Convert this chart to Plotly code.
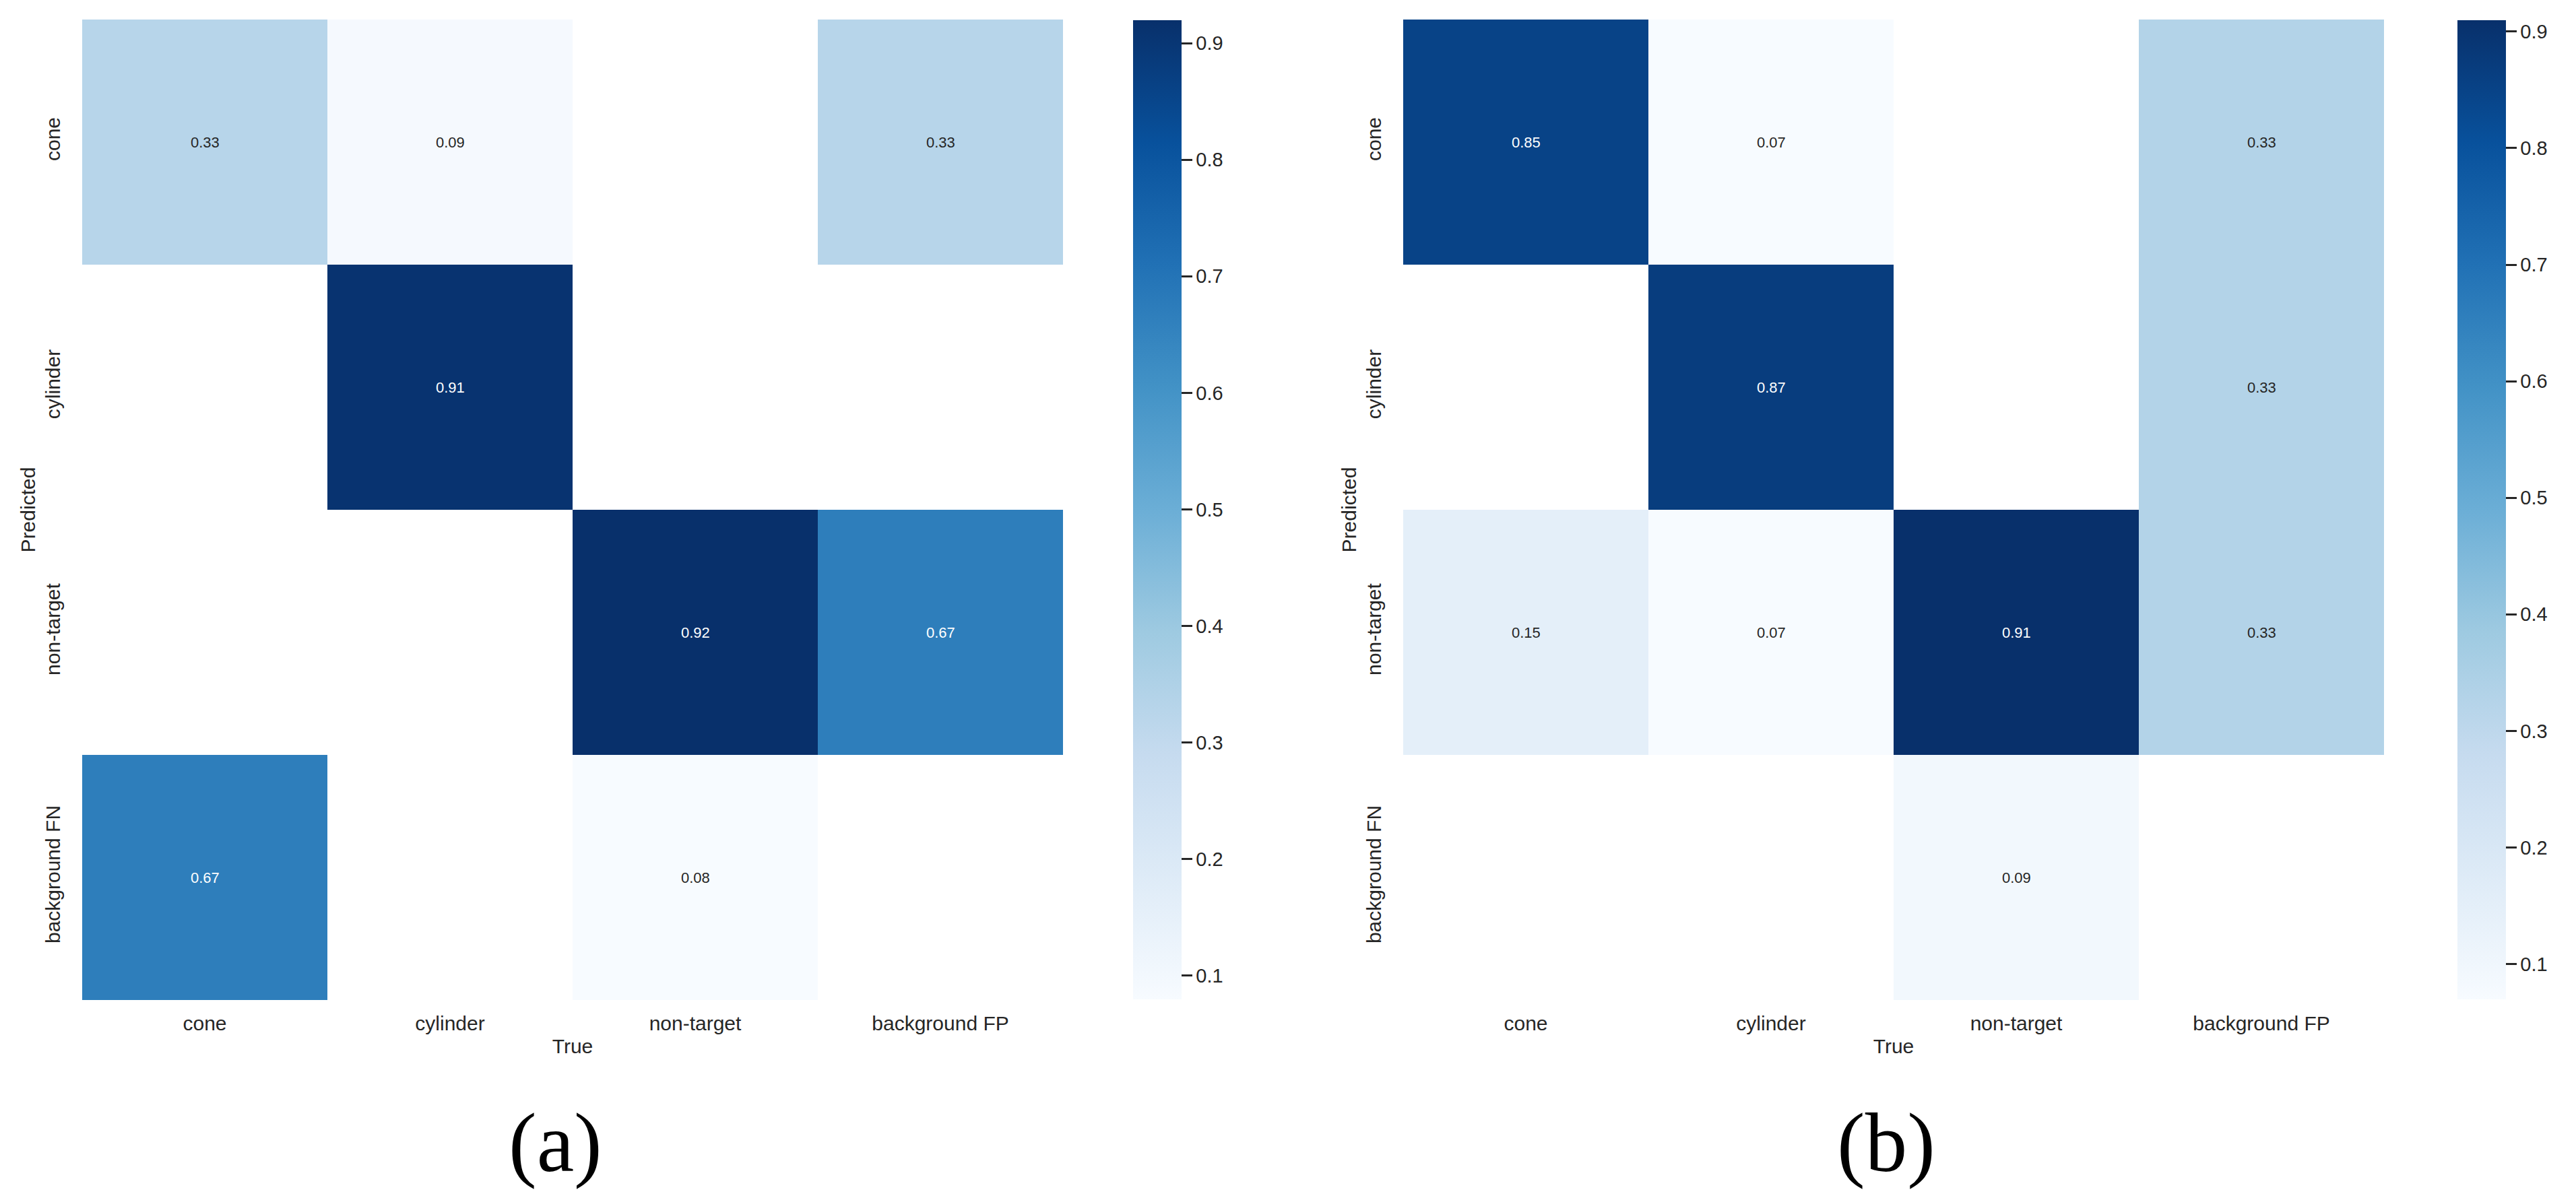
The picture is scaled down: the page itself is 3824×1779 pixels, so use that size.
import plotly.graph_objects as go
import plotly.colors as pc
import re

# ---------------- data ----------------
true_labels = ["cone", "cylinder", "non-target", "background FP"]
pred_labels = ["cone", "cylinder", "non-target", "background FN"]

# rows = Predicted, columns = True (0 = empty cell)
matrix_a = [
    [0.33, 0.09, 0.00, 0.33],
    [0.00, 0.91, 0.00, 0.00],
    [0.00, 0.00, 0.92, 0.67],
    [0.67, 0.00, 0.08, 0.00],
]
matrix_b = [
    [0.85, 0.07, 0.00, 0.33],
    [0.00, 0.87, 0.00, 0.33],
    [0.15, 0.07, 0.91, 0.33],
    [0.00, 0.00, 0.09, 0.00],
]
panel_labels = ["(a)", "(b)"]
x_title = "True"
y_title = "Predicted"
cb_ticks = [0.1, 0.2, 0.3, 0.4, 0.5, 0.6, 0.7, 0.8, 0.9]

# ---------------- style ----------------
PAGE_W, PAGE_H = 3824, 1779
OFF = 8  # default browser body margin
W, H = PAGE_W - 2 * OFF, PAGE_H - 2 * OFF
BLUES = pc.sequential.Blues
DARK = "#262626"
SANS = "Liberation Sans, Arial, sans-serif"
SERIF = "Liberation Serif, Times New Roman, serif"


def px_x(p):
    return (p - OFF) / W


def px_y(p):
    return 1 - (p - OFF) / H


def lum(rgbstr):
    vals = [float(v) / 255 for v in re.findall(r"[\d.]+", rgbstr)[:3]]
    lin = [v / 12.92 if v <= 0.03928 else ((v + 0.055) / 1.055) ** 2.4 for v in vals]
    return 0.2126 * lin[0] + 0.7152 * lin[1] + 0.0722 * lin[2]


panels = [
    dict(m=matrix_a, x0=122, x1=1578, cbx=1682, ax="", label_x=824),
    dict(m=matrix_b, x0=2083, x1=3539, cbx=3648, ax="2", label_x=2800),
]

fig = go.Figure()
annotations = []
layout = dict(
    width=W, height=H,
    margin=dict(l=0, r=0, t=0, b=0),
    paper_bgcolor="white", plot_bgcolor="white",
    font=dict(family=SANS, color=DARK),
    showlegend=False,
)

for i, p in enumerate(panels):
    m = p["m"]
    z = [[v if v != 0 else None for v in row] for row in m]
    nz = [v for row in m for v in row if v != 0]
    zmin, zmax = min(nz), max(nz)
    ax = p["ax"]
    xref = "x" + ax
    yref = "y" + ax
    fig.add_trace(go.Heatmap(
        z=z, x=true_labels, y=pred_labels,
        colorscale=BLUES, zmin=zmin, zmax=zmax,
        xaxis=xref, yaxis=yref, xgap=0, ygap=0,
        hoverongaps=False,
        colorbar=dict(
            x=px_x(p["cbx"]), xanchor="left", xpad=0, ypad=0,
            y=px_y(29.5), yanchor="top", len=(1483 - 29.5) / H, lenmode="fraction",
            thickness=72, thicknessmode="pixels",
            outlinewidth=0,
            tickmode="array", tickvals=cb_ticks,
            ticktext=[f"{t:.1f}" for t in cb_ticks],
            ticks="outside", ticklen=16, tickwidth=3, tickcolor=DARK,
            tickfont=dict(family=SANS, size=29, color=DARK),
        ),
    ))
    # cell annotations
    for r, row in enumerate(m):
        for c, v in enumerate(row):
            if v == 0:
                continue
            frac = (v - zmin) / (zmax - zmin)
            col = pc.sample_colorscale(BLUES, [frac])[0]
            tcol = DARK if lum(col) > 0.408 else "white"
            annotations.append(dict(
                x=true_labels[c], y=pred_labels[r], xref=xref, yref=yref,
                text=f"{v:.2f}", showarrow=False,
                font=dict(family=SANS, size=22, color=tcol),
            ))
    xname = "xaxis" + ax
    yname = "yaxis" + ax
    layout[xname] = dict(
        domain=[px_x(p["x0"]), px_x(p["x1"])], anchor=yref,
        type="category", showgrid=False, zeroline=False, showline=False,
        ticks="outside", ticklen=8, tickcolor="rgba(0,0,0,0)",
        tickfont=dict(family=SANS, size=30, color=DARK),
        title=dict(text=x_title, font=dict(family=SANS, size=30, color=DARK), standoff=7),
        automargin=False, fixedrange=True,
    )
    layout[yname] = dict(
        domain=[px_y(1485), px_y(29)], anchor=xref,
        type="category", autorange="reversed",
        showgrid=False, zeroline=False, showline=False,
        ticks="outside", ticklen=20, tickcolor="rgba(0,0,0,0)",
        tickangle=-90,
        tickfont=dict(family=SANS, size=30, color=DARK),
        title=dict(text=y_title, font=dict(family=SANS, size=30, color=DARK), standoff=0),
        automargin=False, fixedrange=True,
    )
    annotations.append(dict(
        x=px_x(p["label_x"]), y=px_y(1697), xref="paper", yref="paper",
        text=panel_labels[i], showarrow=False, xanchor="center", yanchor="middle",
        font=dict(family=SERIF, size=125, color="black"),
    ))

layout["annotations"] = annotations
fig.update_layout(**layout)
fig.write_html("out.html")
